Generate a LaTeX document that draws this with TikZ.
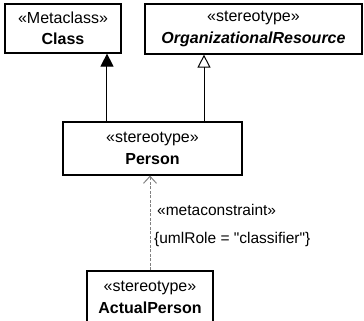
\documentclass[tikz,border=0pt]{standalone}
\usepackage{fontspec}
\setmainfont{Liberation Sans}
\usetikzlibrary{arrows.meta}

\begin{document}
\begin{tikzpicture}[x=1bp, y=-1bp,
    umlbox/.style={draw, line width=1.2bp, minimum height=49bp, inner sep=0pt, align=center,
      font=\fontsize{16bp}{21.5bp}\selectfont},
    extends/.style={line width=1bp, -{Triangle[length=13bp,width=13bp]}},
    generalizes/.style={line width=1bp, -{Triangle[open,length=13bp,width=13bp]}},
    constrains/.style={gray, line width=1bp, dash pattern=on 3bp off 1.5bp,
      -{Straight Barb[length=7bp,width=13bp]}},
    note/.style={anchor=west, inner sep=0pt, font=\fontsize{15.5bp}{18bp}\selectfont}]
                \clip (0,0) rectangle (364,321);
                \node[umlbox, minimum width=116bp] (cls) at (63,28.5) {«Metaclass»\\\textbf{Class}};
                \node[umlbox, minimum width=217bp, minimum height=50bp] (org) at (253.5,29)
                  {«stereotype»\\\textbf{\textit{OrganizationalResource}}};
                \node[umlbox, minimum width=179bp, minimum height=53bp] (person) at (152.5,148.5)
                  {«stereotype»\\\textbf{Person}};
                \node[umlbox, minimum width=126bp, minimum height=53bp] (actual) at (150,297.5)
                  {«stereotype»\\\textbf{ActualPerson}};
                \draw[extends] ([xshift=-45.5bp]person.north) -- ([xshift=-45.5bp]person.north |- cls.south);
                \draw[generalizes] ([xshift=51.5bp]person.north) -- ([xshift=51.5bp]person.north |- org.south);
                \draw[constrains] (actual.north) -- (actual.north |- person.south);
                \node[note] (meta) at (157,210) {«metaconstraint»};
                \node[note] (role) at (154,239) {\{umlRole = \textquotedbl classifier\textquotedbl\}};
\end{tikzpicture}
\end{document}
